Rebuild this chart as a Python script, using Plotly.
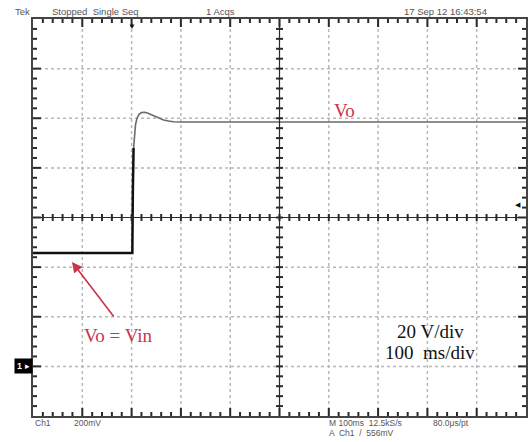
import plotly.graph_objects as go

# ---- data ----
# time in ms (100 ms/div, 10 div), voltage in V (20 V/div), ground marker at 0 V
pre_t = [0, 201.5, 202.5, 204]
pre_v = [45.7, 45.7, 70, 88]
post_t = [204, 206, 208, 211, 215, 220, 226, 232, 240, 248, 256, 265, 275, 285, 300,
          400, 500, 600, 700, 800, 900, 1000]
post_v = [88, 94, 97.5, 100, 101.6, 102.3, 102.4, 102.1, 101.4, 100.6, 99.9, 99.3, 98.9,
          98.6, 98.5, 98.5, 98.6, 98.5, 98.5, 98.5, 98.5, 98.5]

x_range = [0, 1000]
y_range = [-20, 140]
x_div = 100
y_div = 20
trigger_t = 200
trigger_level_v = 65.4

header_texts = ["Tek", "Stopped  Single Seq", "1 Acqs", "17 Sep 12 16:43:54"]
footer_texts = ["Ch1", "200mV", "M 100ms  12.5kS/s", "80.0\u03bcs/pt", "A  Ch1  /  556mV"]
label_vo = "Vo"
label_vin = "Vo = Vin"
label_vdiv = "20 V/div"
label_tdiv = "100  ms/div"

RED = "#c8344a"
INK = "#2a2a2a"
W, H = 532, 442
L, R, T, B = 33, 4, 19, 26
PW, PH = W - L - R, H - T - B

def px(xp):
    return (xp - L) / PW

def py(yp):
    return (H - B - yp) / PH

fig = go.Figure()
fig.add_trace(go.Scatter(x=pre_t, y=pre_v, mode="lines",
                         line=dict(color="#111111", width=2.5), showlegend=False))
fig.add_trace(go.Scatter(x=post_t, y=post_v, mode="lines",
                         line=dict(color="#6a6a6a", width=1.6), showlegend=False))

xc = (x_range[0] + x_range[1]) / 2
yc = (y_range[0] + y_range[1]) / 2
shapes = []
GRID = dict(color="#b8b8b8", width=1.5, dash="dot")
nx = int((x_range[1] - x_range[0]) / x_div)
ny = int((y_range[1] - y_range[0]) / y_div)
for i in range(1, nx):
    xv = x_range[0] + i * x_div
    if xv != xc:
        shapes.append(dict(type="line", xref="x", yref="paper", x0=xv, x1=xv,
                           y0=0, y1=1, layer="below", line=GRID))
for i in range(1, ny):
    yv = y_range[0] + i * y_div
    if yv != yc:
        shapes.append(dict(type="line", xref="paper", yref="y", x0=0, x1=1,
                           y0=yv, y1=yv, layer="below", line=GRID))
shapes.append(dict(type="line", xref="paper", yref="y", x0=0, x1=1, y0=yc, y1=yc,
                   line=dict(color=INK, width=1.2)))
shapes.append(dict(type="line", xref="x", yref="paper", x0=xc, x1=xc, y0=0, y1=1,
                   line=dict(color=INK, width=1.2)))
TICK = dict(color=INK, width=2)
mx = nx * 5
for i in range(1, mx):
    xv = x_range[0] + i * x_div / 5
    ln = 8 if i % 5 == 0 else 4
    shapes.append(dict(type="line", xref="x", yref="paper", x0=xv, x1=xv,
                       y0=0.5 - 3.5 / PH, y1=0.5 + 3.5 / PH, line=TICK))
    shapes.append(dict(type="line", xref="x", yref="paper", x0=xv, x1=xv,
                       y0=0, y1=ln / PH, line=TICK))
    shapes.append(dict(type="line", xref="x", yref="paper", x0=xv, x1=xv,
                       y0=1 - ln / PH, y1=1, line=TICK))
my = ny * 5
for i in range(1, my):
    yv = y_range[0] + i * y_div / 5
    ln = 8 if i % 5 == 0 else 4
    shapes.append(dict(type="line", xref="paper", yref="y", x0=0.5 - 3.5 / PW, x1=0.5 + 3.5 / PW,
                       y0=yv, y1=yv, line=TICK))
    shapes.append(dict(type="line", xref="paper", yref="y", x0=0, x1=ln / PW,
                       y0=yv, y1=yv, line=TICK))
    shapes.append(dict(type="line", xref="paper", yref="y", x0=1 - ln / PW, x1=1,
                       y0=yv, y1=yv, line=TICK))

axis_common = dict(showticklabels=False, ticks="", showline=True, linecolor="#444444",
                   linewidth=1.5, mirror=True, showgrid=False, zeroline=False,
                   fixedrange=True)
fig.update_xaxes(range=x_range, **axis_common)
fig.update_yaxes(range=y_range, **axis_common)

ann = []
sans = "Liberation Sans, Arial, sans-serif"
serif = "Liberation Serif, Times New Roman, serif"
for txt, xp in zip(header_texts, [13, 50, 205, 403]):
    ann.append(dict(text=txt, xref="paper", yref="paper", x=px(xp), y=py(11),
                    xanchor="left", yanchor="middle", showarrow=False,
                    font=dict(family=sans, size=9.5, color="#555555")))
for txt, xp, yp in zip(footer_texts, [33, 72, 328, 433, 328], [423, 423, 423, 423, 433]):
    ann.append(dict(text=txt, xref="paper", yref="paper", x=px(xp), y=py(yp),
                    xanchor="left", yanchor="middle", showarrow=False,
                    font=dict(family=sans, size=8.5, color="#555555")))
ann.append(dict(text="\u25bc", xref="x", yref="paper", x=trigger_t, y=1, yanchor="top",
                showarrow=False, yshift=1, font=dict(size=8, color="#111111")))
ann.append(dict(text="\u25c0", xref="paper", yref="y", x=1, y=trigger_level_v,
                xanchor="right", showarrow=False, xshift=-3,
                font=dict(size=7, color="#111111")))
ann.append(dict(text="<b>1</b> \u25b8", xref="paper", yref="y", x=0, y=0, xanchor="right",
                showarrow=False, bgcolor="#000000", borderpad=2,
                font=dict(family=sans, size=9, color="#ffffff")))
ann.append(dict(text=label_vo, xref="x", yref="y", x=632, y=103.3, showarrow=False,
                font=dict(family=serif, size=19, color=RED)))
ann.append(dict(text=label_vin, xref="x", yref="y", x=174, y=12.6, showarrow=False,
                font=dict(family=serif, size=19, color=RED)))
ann.append(dict(text="", xref="x", yref="y", x=79, y=42.1, axref="x", ayref="y",
                ax=166, ay=19.5, showarrow=True, arrowhead=2, arrowsize=1.3,
                arrowwidth=1.6, arrowcolor=RED))
ann.append(dict(text=label_vdiv, xref="x", yref="y", x=806, y=14, showarrow=False,
                font=dict(family=serif, size=19, color="#111111")))
ann.append(dict(text=label_tdiv, xref="x", yref="y", x=806, y=5.4, showarrow=False,
                font=dict(family=serif, size=19, color="#111111")))

fig.update_layout(width=W, height=H, margin=dict(l=L, r=R, t=T, b=B),
                  paper_bgcolor="white", plot_bgcolor="white",
                  shapes=shapes, annotations=ann, showlegend=False)

fig.write_html("out.html")
